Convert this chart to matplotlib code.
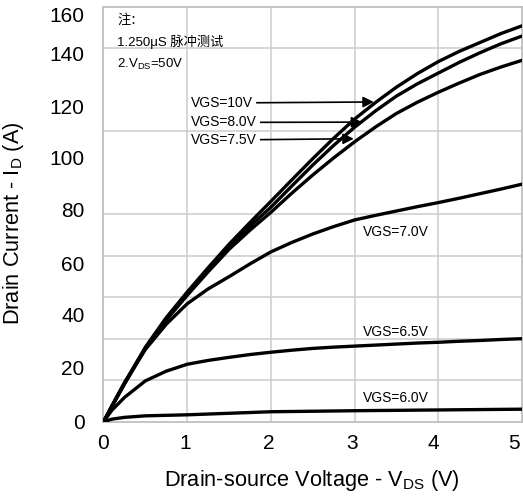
import matplotlib
matplotlib.use("Agg")
import matplotlib.pyplot as plt

plt.rcParams['font.family'] = ['Liberation Sans', 'Noto Sans CJK SC', 'DejaVu Sans']
plt.rcParams['mathtext.fontset'] = 'custom'
plt.rcParams['mathtext.rm'] = 'Liberation Sans'
plt.rcParams['mathtext.it'] = 'Liberation Sans'

# drain-source voltage (V) and drain current (A)
vds = [0, 0.1, 0.25, 0.5, 0.75, 1, 1.25, 1.5, 1.75, 2, 2.25, 2.5, 2.75,
       3, 3.25, 3.5, 3.75, 4, 4.25, 4.5, 4.75, 5]
id_10v = [0, 6.2, 15.2, 29.2, 40.8, 50.8, 60.3, 69.5, 78, 86.3, 94.7, 103, 111,
          118.5, 125, 131, 136.3, 141, 145, 148.5, 152, 155]
id_8v = [0, 6.0, 14.8, 28.8, 40.3, 50.2, 59.5, 68.5, 76.5, 84, 92.3, 100.5, 108.2,
         115.3, 121.7, 127.5, 132.3, 136.5, 140.7, 144.5, 148, 151]
id_75v = [0, 6.0, 14.8, 28.6, 39.8, 49.5, 58.7, 67.5, 75, 82, 89.5, 96.6, 103.3,
          109.6, 115.4, 120.7, 125.1, 129, 132.6, 136, 138.9, 141.5]
id_7v = [0, 6.2, 15.3, 28.3, 38.2, 46.2, 52, 56.8, 61.8, 66.5, 70.2, 73.5, 76.4,
         79, 80.8, 82.5, 84.2, 85.8, 87.5, 89.3, 91.1, 93]
id_65v = [0, 4.5, 9.5, 16, 19.8, 22.5, 24, 25.2, 26.3, 27.2, 28, 28.7, 29.2,
          29.6, 30, 30.4, 30.8, 31.1, 31.5, 31.8, 32.2, 32.5]
id_6v = [0, 1.0, 1.7, 2.3, 2.5, 2.7, 3.0, 3.3, 3.6, 3.9, 4.0, 4.1, 4.2,
         4.3, 4.38, 4.45, 4.53, 4.6, 4.68, 4.75, 4.83, 4.9]

xtick_labels = ['0', '1', '2', '3', '4', '5']
ytick_labels = ['0', '20', '40', '60', '80', '100', '120', '140', '160']

fig = plt.figure(figsize=(5.23, 4.97), dpi=100)
ax = fig.add_axes([0.1964, 0.1515, 0.8016, 0.835])

ymax = 162.5
ax.set_xlim(0, 5)
ax.set_ylim(0, ymax)

# grid as drawn in the datasheet (some horizontal lines missing)
grid_c = '#cccccc'
for v in [1, 2, 3, 4]:
    ax.axvline(v, color=grid_c, lw=1.1, zorder=1)
for k in [1, 2, 3, 4, 5, 7, 9]:
    ax.axhline(ymax * k / 10, color=grid_c, lw=1.1, zorder=1)
for s in ax.spines.values():
    s.set_color('#bfbfbf')
    s.set_linewidth(1.3)

for ys in [id_10v, id_8v, id_75v, id_7v, id_65v, id_6v]:
    ax.plot(vds, ys, color='black', lw=2.4, solid_capstyle='round',
            solid_joinstyle='round', zorder=3)

ax.set_xticks([-0.01, 0.98, 1.97, 2.97, 3.94, 4.91])
ax.set_xticklabels(xtick_labels)
ax.set_yticks([0, 21.4, 41.8, 62.1, 82.9, 103.6, 123.3, 144.3, 159.6])
ax.set_yticklabels(ytick_labels)
ax.tick_params(axis='both', length=0, labelsize=15)
ax.tick_params(axis='y', pad=13)
ax.tick_params(axis='x', pad=9)

ax.set_xlabel(r'Drain-source Voltage - V$\mathregular{_{DS}}$ (V)', fontsize=15.7)
ax.xaxis.set_label_coords(0.499, -0.112)
ax.xaxis.label.set_va('top')
ax.set_ylabel(r'Drain Current - I$\mathregular{_{D}}$ (A)', fontsize=15.7)
ax.yaxis.set_label_coords(-0.183, 0.479)

# curve labels
ax.text(3.10, 74.4, 'VGS=7.0V', fontsize=10, va='center')
ax.text(3.10, 35.2, 'VGS=6.5V', fontsize=10, va='center')
ax.text(3.10, 9.2, 'VGS=6.0V', fontsize=10, va='center')

arrows = [('VGS=10V', 124.8, 3.23, 125.2),
          ('VGS=8.0V', 117.2, 3.09, 117.3),
          ('VGS=7.5V', 110.3, 2.99, 110.8)]
for txt, ty, ax_tip, ay_tip in arrows:
    ax.annotate(txt, xy=(ax_tip, ay_tip), xytext=(1.04, ty), fontsize=10, va='center',
                arrowprops=dict(arrowstyle='-|>', color='black', lw=1.2,
                                mutation_scale=16, shrinkA=1, shrinkB=0))

# notes
ax.text(0.16, 157, '注：', fontsize=9.5, va='center')
ax.text(0.16, 148.6, '1.250μS 脉冲测试', fontsize=9.5, va='center')
ax.text(0.16, 140, r'2.V$\mathregular{_{DS}}$=50V', fontsize=9.5, va='center')

fig.savefig('out.png', dpi=100)
